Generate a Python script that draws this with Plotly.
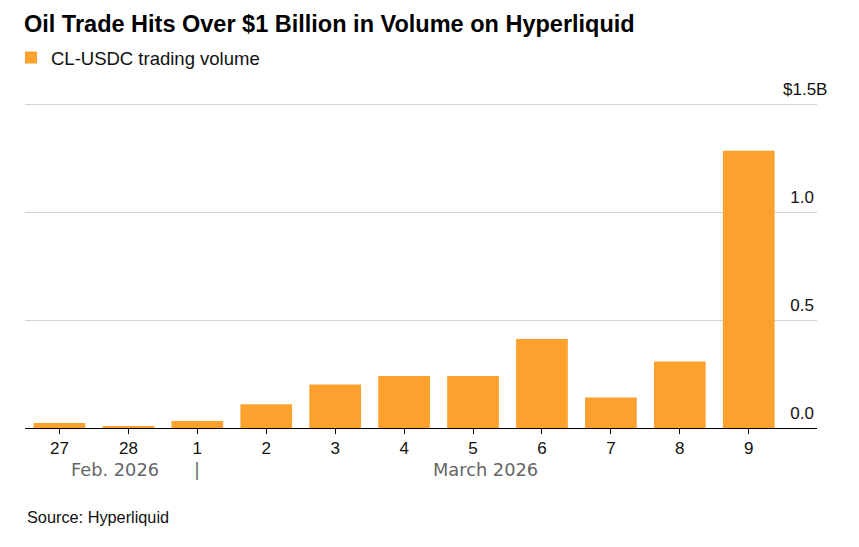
import plotly.graph_objects as go

days = ["27", "28", "1", "2", "3", "4", "5", "6", "7", "8", "9"]
volume_b = [0.023, 0.008, 0.032, 0.110, 0.201, 0.241, 0.241, 0.412, 0.141, 0.308, 1.284]
y_ticks = [0, 0.5, 1.0, 1.5]
y_ticktext = ["0.0", "0.5", "1.0", ""]
month_labels = ["Feb. 2026", "March 2026"]

W, H = 859, 547
ML, MR, MT, MB = 25, 42, 102, 119
PW, PH = W - ML - MR, H - MT - MB
FONT = "Liberation Sans"
ORANGE = "#fca12d"


def py(pix):
    """paper y for a pixel row"""
    return (H - MB - pix) / PH


fig = go.Figure()
fig.add_trace(go.Bar(
    x=days, y=volume_b, name="CL-USDC trading volume",
    marker=dict(color=ORANGE, line=dict(width=0)),
    hoverinfo="skip",
))

fig.update_layout(
    width=W, height=H,
    margin=dict(l=ML, r=MR, t=MT, b=MB),
    paper_bgcolor="white", plot_bgcolor="white",
    bargap=0.25,
    font=dict(family=FONT, color="#111111", size=16),
    title=dict(
        text="<b>Oil Trade Hits Over $1 Billion in Volume on Hyperliquid</b>",
        xref="container", yref="container", x=24 / W, y=1 - 24 / H,
        xanchor="left", yanchor="middle",
        font=dict(family=FONT, size=23.5, color="#000000"),
    ),
    showlegend=True,
    legend=dict(
        xref="container", yref="container",
        x=11 / W, y=1 - 58 / H, xanchor="left", yanchor="middle",
        orientation="h", itemwidth=30,
        font=dict(family=FONT, size=18.5, color="#111111"),
        bgcolor="rgba(0,0,0,0)",
    ),
    xaxis=dict(
        type="category", range=[-0.5, 10.99],
        showgrid=False, showline=True, linecolor="#000000", linewidth=1,
        ticks="outside", ticklen=5, tickcolor="#000000", tickwidth=1,
        tickfont=dict(family=FONT, size=17, color="#111111"),
        fixedrange=True,
    ),
    yaxis=dict(
        range=[0, 1.51], side="right",
        tickvals=y_ticks, ticktext=y_ticktext,
        ticklabelposition="inside top",
        ticklabelshift=-3,
        showgrid=True, gridcolor="#d2d2d2", gridwidth=1,
        zeroline=False, showline=False, ticks="",
        tickfont=dict(family=FONT, size=17, color="#111111"),
        fixedrange=True,
    ),
)

# "$1.5B" top label (hangs slightly to the right)
fig.add_annotation(
    text="$1.5B", xref="paper", yref="y", x=1, y=1.5,
    xanchor="right", yanchor="bottom", xshift=12, yshift=3,
    showarrow=False, font=dict(family=FONT, size=17, color="#111111"),
)

# Month labels under the axis
for txt, xpos in [(month_labels[0], 0.8), (month_labels[1], 6.18), ("|", 2)]:
    fig.add_annotation(
        text=txt, xref="x", yref="paper", x=xpos, y=py(469),
        xanchor="center", yanchor="middle", showarrow=False,
        font=dict(family="DejaVu Sans", size=17.8, color="#666666"),
    )

# Source
fig.add_annotation(
    text="Source: Hyperliquid", xref="paper", yref="paper",
    x=0, y=py(517), xanchor="left", yanchor="middle",
    showarrow=False, font=dict(family=FONT, size=16.3, color="#111111"),
)

fig.write_html("out.html", config={"displayModeBar": False},
               post_script="document.body.style.margin='0';")
